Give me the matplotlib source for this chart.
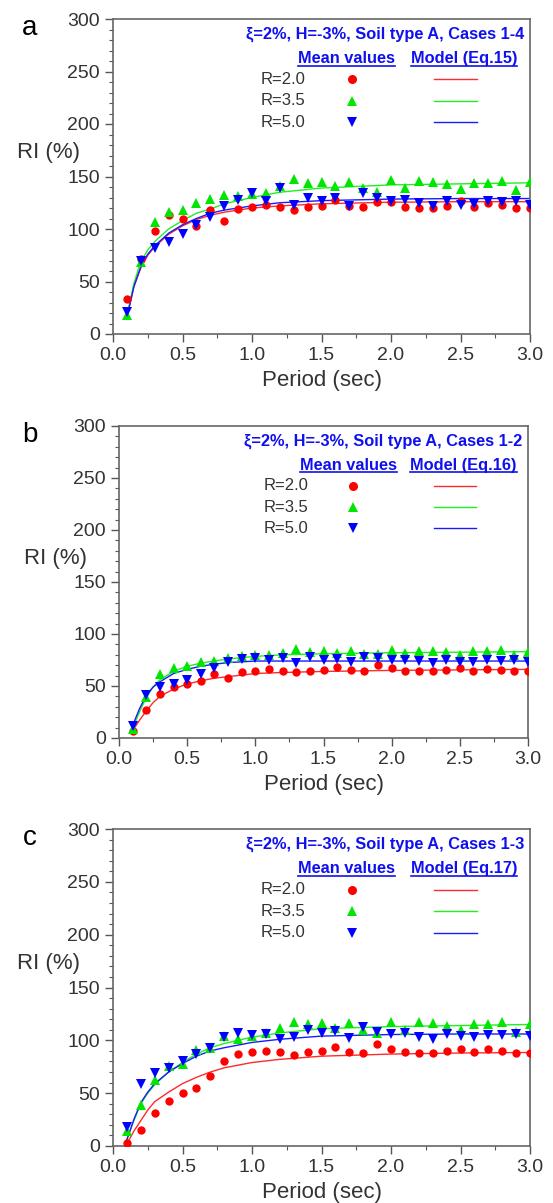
import matplotlib
matplotlib.use("Agg")
import matplotlib.pyplot as plt
from matplotlib.ticker import MultipleLocator

plt.rcParams['font.family'] = ['Liberation Sans', 'DejaVu Sans']

# periodos de las medias (0.1 .. 3.0 s)
periodos = [0.1, 0.2, 0.3, 0.4, 0.5, 0.6, 0.7, 0.8, 0.9, 1.0,
            1.1, 1.2, 1.3, 1.4, 1.5, 1.6, 1.7, 1.8, 1.9, 2.0,
            2.1, 2.2, 2.3, 2.4, 2.5, 2.6, 2.7, 2.8, 2.9, 3.0]
# periodos donde se leyo la curva del modelo
periodos_modelo = [0.1, 0.15, 0.2, 0.25, 0.3, 0.4, 0.5, 0.6, 0.7, 0.8,
                   1.0, 1.2, 1.5, 2.0, 2.5, 3.0]

# panel a (Cases 1-4)
a_r20 = [33, 71, 98, 113, 110, 103, 118, 108, 119, 121, 123, 121, 118, 121, 122,
         128, 122, 121, 126, 126, 121, 120, 120, 122, 127, 121, 125, 123, 120, 120]
a_r35 = [18, 69, 107, 116, 118, 125, 129, 132, 131, 133, 134, 141, 148, 144, 145,
         141, 145, 139, 135, 147, 139, 146, 145, 143, 138, 144, 144, 146, 137, 145]
a_r50 = [21, 70, 82, 88, 95, 104, 111, 122, 128, 134, 127, 139, 123, 130, 127,
         130, 122, 134, 130, 127, 128, 125, 122, 127, 123, 124, 127, 126, 127, 123]
a_mod_r20 = [16, 45, 63, 75, 83, 95, 103, 109, 113, 116, 120, 122, 124, 125.5, 126, 126]
a_mod_r35 = [17, 48, 69, 80, 88, 100, 108, 115, 119, 124, 130, 135, 139, 142, 143, 144]
a_mod_r50 = [16, 45, 64, 76, 84, 96, 104, 110, 115, 118, 122, 125, 127, 128.5, 129, 129]

# panel b (Cases 1-2)
b_r20 = [6.5, 27, 42, 49, 52, 55, 62, 58, 63, 64, 66, 64, 63, 64, 65,
         68, 65, 64, 70, 67, 64, 64, 64, 65, 67, 64, 66, 65, 64, 64]
b_r35 = [9, 39, 62, 67, 69, 73, 74, 77, 79, 80, 80, 82, 86, 83, 84,
         82, 84, 81, 81, 85, 82, 84, 84, 83, 80, 84, 84, 85, 80, 83]
b_r50 = [12, 41, 49, 52, 56, 62, 67, 73, 76, 77, 75, 77, 72, 78, 75,
         76, 73, 78, 77, 75, 75, 74, 72, 75, 73, 73, 75, 74, 75, 73]
b_mod_r20 = [7, 17, 26, 34, 40, 47, 52, 55, 57.5, 59, 62, 63, 64, 65, 65.5, 66]
b_mod_r35 = [9, 25, 39, 49, 56, 64, 69, 72, 74, 76, 78.5, 80, 81, 82, 82.5, 83]
b_mod_r50 = [12, 28, 41, 49, 54, 62, 66, 69, 71, 72.5, 74, 74, 74, 74, 74, 74]

# panel c (Cases 1-3)
c_r20 = [3, 15, 31, 43, 50, 55, 66, 80, 87, 89, 90, 89, 86, 89, 90,
         94, 89, 88, 97, 92, 88.5, 88, 88, 90, 92, 88.5, 92, 90, 88, 88]
c_r35 = [14, 39, 62, 76, 78, 91, 93, 104, 101, 104, 107, 112, 117, 115, 116,
         112, 116, 110, 107, 117, 110, 117, 116, 114, 110, 115, 115, 117, 108, 115]
c_r50 = [18, 59, 69, 74, 80, 87, 93, 103, 107, 105, 106, 101, 103, 110, 107,
         109, 102, 113, 108, 106, 107, 103, 101, 106, 104, 103, 105, 105, 106, 104]
c_mod_r20 = [2, 14, 24, 34, 42, 51, 59, 65, 70, 74, 79, 82, 85, 87, 88, 88.5]
c_mod_r35 = [6, 24, 40, 50, 58, 70, 79, 87, 93, 97, 103, 107, 111, 113, 114, 115]
c_mod_r50 = [6, 25, 41, 51, 59, 70, 78, 85, 90, 93, 98, 101, 104, 105.5, 106, 106]

etiquetas_r = ["R=2.0", "R=3.5", "R=5.0"]
titulo = "ξ=2%, H=-3%, Soil type A, "

paneles = [
    ("a", "Cases 1-4", "Model (Eq.15)", [a_r20, a_r35, a_r50], [a_mod_r20, a_mod_r35, a_mod_r50],
     [113 / 553, 1 - 334 / 1203, 417 / 553, 315 / 1203]),
    ("b", "Cases 1-2", "Model (Eq.16)", [b_r20, b_r35, b_r50], [b_mod_r20, b_mod_r35, b_mod_r50],
     [119 / 553, 1 - 738 / 1203, 409 / 553, 312 / 1203]),
    ("c", "Cases 1-3", "Model (Eq.17)", [c_r20, c_r35, c_r50], [c_mod_r20, c_mod_r35, c_mod_r50],
     [113 / 553, 1 - 1146 / 1203, 417 / 553, 317 / 1203]),
]

colores_pto = ["#ff0000", "#00e600", "#0000ff"]
colores_lin = ["#ff2a2a", "#22ee22", "#1a1aff"]
marcadores = ["o", "^", "v"]
tam_marcador = [6, 7, 7]
azul_txt = "#1010ee"
gris = "#333333"

fig = plt.figure(figsize=(5.53, 12.03), dpi=100)
subrayar = []

for letra, casos, modelo, medias, curvas, pos in paneles:
    ax = fig.add_axes(pos)
    for i in range(3):
        ax.plot(periodos_modelo, curvas[i], color=colores_lin[i], lw=1.0, zorder=2)
        ax.plot(periodos, medias[i], linestyle="none", marker=marcadores[i],
                color=colores_pto[i], markersize=tam_marcador[i], markeredgewidth=0, zorder=3)

    ax.set_xlim(0, 3.0)
    ax.set_ylim(0, 300)
    ax.xaxis.set_major_locator(MultipleLocator(0.5))
    ax.xaxis.set_minor_locator(MultipleLocator(0.25))
    ax.yaxis.set_major_locator(MultipleLocator(50))
    ax.yaxis.set_minor_locator(MultipleLocator(10))
    ax.xaxis.set_major_formatter(plt.FormatStrFormatter("%.1f"))
    ax.tick_params(which="major", direction="out", length=6, width=1.0, colors="#555555",
                   labelcolor=gris, labelsize=14, top=False, right=False)
    ax.tick_params(which="minor", direction="out", length=3, width=0.8, colors="#555555",
                   top=False, right=False)
    for sp in ax.spines.values():
        sp.set_color("#666666")
        sp.set_linewidth(1.2)

    ax.set_xlabel("Period (sec)", fontsize=16, color=gris, labelpad=4)
    ax.text(-0.155, 0.575, "RI (%)", transform=ax.transAxes, fontsize=16, color=gris,
            ha="center", va="center")
    bb = ax.get_position()
    fig.text(30 / 553, bb.y1 - 9 / 1203, letra, fontsize=20, ha="center", va="center")

    # leyenda hecha a mano
    ax.text(0.986, 0.952, titulo + casos, transform=ax.transAxes, fontsize=11.8,
            fontweight="bold", color=azul_txt, ha="right", va="center")
    t1 = ax.text(0.561, 0.874, "Mean values", transform=ax.transAxes, fontsize=11.8,
                 fontweight="bold", color=azul_txt, ha="center", va="center")
    t2 = ax.text(0.842, 0.874, modelo, transform=ax.transAxes, fontsize=11.8,
                 fontweight="bold", color=azul_txt, ha="center", va="center")
    subrayar.append((ax, t1))
    subrayar.append((ax, t2))
    filas = [0.808, 0.740, 0.672]
    for i in range(3):
        ax.text(0.353, filas[i], etiquetas_r[i], transform=ax.transAxes, fontsize=12,
                color=gris, ha="left", va="center")
        ax.plot([0.573], [filas[i]], transform=ax.transAxes, marker=marcadores[i],
                color=colores_pto[i], markersize=tam_marcador[i] + 0.5, markeredgewidth=0,
                linestyle="none", clip_on=False)
        ax.plot([0.770, 0.873], [filas[i], filas[i]], transform=ax.transAxes,
                color=colores_lin[i], lw=1.0)

# subrayado de los encabezados
fig.canvas.draw()
rend = fig.canvas.get_renderer()
for ax, t in subrayar:
    ext = t.get_window_extent(renderer=rend)
    inv = ax.transAxes.inverted()
    (x0, y0), (x1, y1) = inv.transform([(ext.x0, ext.y0), (ext.x1, ext.y1)])
    ax.plot([x0, x1], [y0 + 0.002, y0 + 0.002], transform=ax.transAxes,
            color=azul_txt, lw=1.2, clip_on=False)

fig.savefig("out.png", dpi=100)
